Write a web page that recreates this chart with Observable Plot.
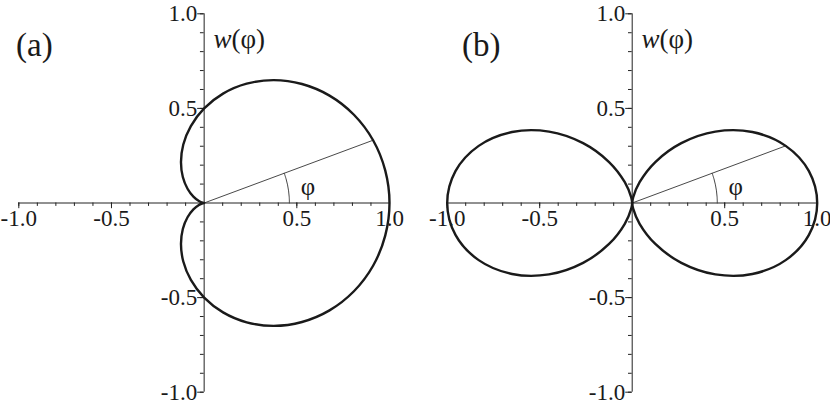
<!DOCTYPE html>
<html>
<head>
<meta charset="utf-8">
<script src="https://cdn.jsdelivr.net/npm/d3@7"></script>
<script src="https://cdn.jsdelivr.net/npm/@observablehq/plot@0.6"></script>
<style>
  html, body { margin: 0; padding: 0; background: #fff; }
  #wrap { display: flex; width: 830px; height: 405px; }
  #wrap svg { display: block; }
</style>
</head>
<body>
<div id="wrap"></div>
<script>
// Polar angles (degrees) at which the curves were read
const angles = [0, 10, 20, 30, 40, 50, 60, 70, 80, 90, 100, 110, 120, 130, 140, 150, 160, 170, 180];
// Panel (a): radius w(φ), upper half (mirror below)
const radiusA = [1.000, 0.992, 0.970, 0.933, 0.883, 0.821, 0.750, 0.671, 0.587, 0.500, 0.413, 0.329, 0.250, 0.179, 0.117, 0.067, 0.030, 0.008, 0.000];
// Panel (b): radius w(φ) for φ in 0..90 (right lobe, upper half); the figure is symmetric
const anglesB = [0, 10, 20, 30, 40, 50, 60, 70, 80, 90];
const radiusB = [1.000, 0.970, 0.883, 0.750, 0.587, 0.413, 0.250, 0.117, 0.030, 0.000];
// Marked angle φ and its arc
const rayAngle = 20;
const arcAngles = [0, 4, 8, 12, 16, 20];
const arcRadius = 0.46;
// Axis ticks and labels
const minorTicks = [-1.0, -0.9, -0.8, -0.7, -0.6, -0.5, -0.4, -0.3, -0.2, -0.1, 0.1, 0.2, 0.3, 0.4, 0.5, 0.6, 0.7, 0.8, 0.9, 1.0];
const majorTicks = [-1.0, -0.5, 0.5, 1.0];
const tickLabels = ["-1.0", "-0.5", "0.5", "1.0"];
const panelLabels = ["(a)", "(b)"];
const axisTitleVar = "w";
const axisTitleArg = "(φ)";
const angleLabel = "φ";

const rad = d => d * Math.PI / 180;
const toXY = (a, r, lobe) => ({x: r * Math.cos(rad(a)), y: r * Math.sin(rad(a)), lobe});

// Panel (a) curve: φ from -180 to 180
const curveA = [];
for (let i = angles.length - 1; i >= 0; i--) curveA.push(toXY(-angles[i], radiusA[i], 0));
for (let i = 1; i < angles.length; i++) curveA.push(toXY(angles[i], radiusA[i], 0));

// Panel (b) curve: two lobes
const curveB = [];
for (let i = anglesB.length - 1; i >= 0; i--) curveB.push(toXY(-anglesB[i], radiusB[i], "R"));
for (let i = 1; i < anglesB.length; i++) curveB.push(toXY(anglesB[i], radiusB[i], "R"));
for (let i = anglesB.length - 1; i >= 0; i--) curveB.push(toXY(180 - anglesB[i], radiusB[i], "L"));
for (let i = 1; i < anglesB.length; i++) curveB.push(toXY(180 + anglesB[i], radiusB[i], "L"));

const FONT = "'Liberation Serif', 'Times New Roman', serif";

function panel(curve, rayR, label, xRange, yRange, labelX) {
  const ray = [{x1: 0, y1: 0, x2: rayR * Math.cos(rad(rayAngle)), y2: rayR * Math.sin(rad(rayAngle))}];
  const arc = arcAngles.map(a => toXY(a, arcRadius, 0));
  const yMinor = 0.018, yMajor = 0.03; // tick lengths in y units (down)
  const xMinor = 0.02, xMajor = 0.035;
  return Plot.plot({
    width: 415,
    height: 405,
    margin: 0,
    style: {background: "#fff", overflow: "visible", fontFamily: FONT},
    x: {domain: [-1, 1], range: xRange, axis: null},
    y: {domain: [-1, 1], range: yRange, axis: null},
    marks: [
      // axes lines
      Plot.ruleY([0], {x1: -1, x2: 1, stroke: "#222", strokeWidth: 1}),
      Plot.ruleX([0], {y1: -1, y2: 1, stroke: "#222", strokeWidth: 1}),
      // x ticks (downward)
      Plot.ruleX(minorTicks, {x: d => d, y1: 0, y2: -yMinor, stroke: "#222", strokeWidth: 1}),
      Plot.ruleX(majorTicks, {x: d => d, y1: 0, y2: -yMajor, stroke: "#222", strokeWidth: 1}),
      // y ticks (leftward)
      Plot.ruleY(minorTicks, {y: d => d, x1: 0, x2: -xMinor, stroke: "#222", strokeWidth: 1}),
      Plot.ruleY(majorTicks, {y: d => d, x1: 0, x2: -xMajor, stroke: "#222", strokeWidth: 1}),
      // tick labels
      Plot.text(majorTicks, {x: d => d, y: 0, text: (d, i) => tickLabels[i], dy: 16, fontSize: 23, fontFamily: FONT, fill: "#1a1a1a", textAnchor: "middle", lineAnchor: "middle"}),
      Plot.text(majorTicks, {x: 0, y: d => d, text: (d, i) => tickLabels[i], dx: -7, fontSize: 23, fontFamily: FONT, fill: "#1a1a1a", textAnchor: "end", lineAnchor: "middle"}),
      // ray and angle arc
      Plot.link(ray, {x1: "x1", y1: "y1", x2: "x2", y2: "y2", stroke: "#333", strokeWidth: 0.9}),
      Plot.line(arc, {x: "x", y: "y", stroke: "#333", strokeWidth: 0.9, curve: "catmull-rom"}),
      Plot.text([angleLabel], {x: 0.56, y: 0.085, text: d => d, fontSize: 25, fontFamily: FONT, fill: "#1a1a1a", textAnchor: "middle", lineAnchor: "middle"}),
      // curve
      Plot.line(curve, {x: "x", y: "y", z: "lobe", stroke: "#1a1a1a", strokeWidth: 2.4, curve: "catmull-rom"}),
      // labels
      Plot.text([label], {x: labelX, y: 0.835, text: d => d, fontSize: 33, fontFamily: FONT, fill: "#1a1a1a", textAnchor: "start", lineAnchor: "middle"}),
      Plot.text([axisTitleVar], {x: 0.05, y: 0.865, text: d => d, fontSize: 27, fontStyle: "italic", fontFamily: FONT, fill: "#1a1a1a", textAnchor: "start", lineAnchor: "middle"}),
      Plot.text([axisTitleArg], {x: 0.05, y: 0.865, dx: 18, text: d => d, fontSize: 27, fontFamily: FONT, fill: "#1a1a1a", textAnchor: "start", lineAnchor: "middle"})
    ]
  });
}

const wrap = document.getElementById("wrap");
wrap.appendChild(panel(curveA, radiusA[2], panelLabels[0], [18.3, 389], [391.7, 13.3], -1.015));
wrap.appendChild(panel(curveB, radiusB[2], panelLabels[1], [31.7, 401.7], [391.7, 13.3], -0.92));
</script>
</body>
</html>
